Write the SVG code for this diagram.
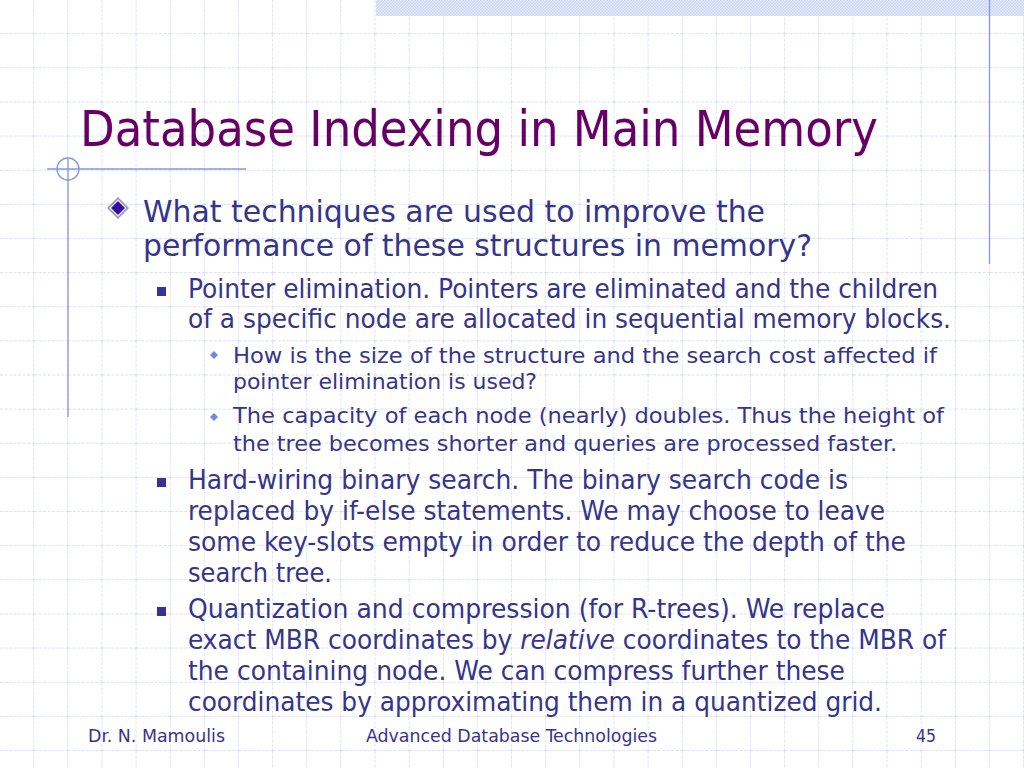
<svg xmlns="http://www.w3.org/2000/svg" width="1024" height="768" viewBox="0 0 1024 768">
<defs>
<pattern id="grid" patternUnits="userSpaceOnUse" x="0" y="0" width="34.1333" height="34.1333">
<path d="M34.1333 0 V34.1333 M0 34.1333 H34.1333" fill="none" stroke="#cdd5f2" stroke-width="1.3" stroke-dasharray="3 1.5"/>
</pattern>
<pattern id="check" patternUnits="userSpaceOnUse" width="3" height="3">
<rect width="3" height="3" fill="#e4eafb"/>
<rect width="1.5" height="1.5" fill="#ccd7f5"/>
<rect x="1.5" y="1.5" width="1.5" height="1.5" fill="#ccd7f5"/>
</pattern>
<style>
.t{font-family:"DejaVu Sans Condensed","DejaVu Sans",sans-serif;}
.title{fill:#660066;font-size:50px;}
.l1{fill:#35358c;font-size:31px;}
.l2{fill:#35358c;font-size:26.5px;}
.l3{fill:#35358c;font-size:21.5px;}
.ft{fill:#35358c;font-size:17.5px;}
.deco{stroke:#8497e0;stroke-width:1.3;fill:none;}
</style>
</defs>
<rect width="1024" height="768" fill="#ffffff"/>
<rect width="1024" height="768" fill="url(#grid)"/>
<rect x="376" y="0" width="648" height="16" fill="url(#check)"/>
<g id="decor">
<line class="deco" x1="989.5" y1="0" x2="989.5" y2="264"/>
<line class="deco" x1="47" y1="169" x2="246" y2="169"/>
<circle class="deco" cx="68" cy="169" r="11"/>
<line class="deco" x1="68" y1="158" x2="68" y2="417"/>
</g>
<g id="title">
<text class="t title" x="80" y="146" textLength="798" lengthAdjust="spacingAndGlyphs">Database Indexing in Main Memory</text>
</g>
<g id="bullets">
<polygon points="118,197 129,208 118,219 107,208" fill="#9a9ac0"/>
<polygon points="118,199.5 126.5,208 118,216.5 109.5,208" fill="#ffffff"/>
<polygon points="118,201 125,208 118,215 111,208" fill="#3311a0"/>
<rect x="157" y="287" width="9" height="9" fill="#333399"/>
<rect x="157" y="478" width="9" height="9" fill="#333399"/>
<rect x="157" y="607" width="9" height="9" fill="#333399"/>
<polygon points="214,351 218,355 214,359 210,355" fill="#6f88e6"/>
<polygon points="214,413 218,417 214,421 210,417" fill="#6f88e6"/>
</g>
<g id="body">
<text class="t l1" x="143" y="222" textLength="622" lengthAdjust="spacingAndGlyphs">What techniques are used to improve the</text>
<text class="t l1" x="143" y="256" textLength="669" lengthAdjust="spacingAndGlyphs">performance of these structures in memory?</text>
<text class="t l2" x="188" y="298" textLength="750" lengthAdjust="spacingAndGlyphs">Pointer elimination. Pointers are eliminated and the children</text>
<text class="t l2" x="188" y="328" textLength="763" lengthAdjust="spacingAndGlyphs">of a specific node are allocated in sequential memory blocks.</text>
<text class="t l3" x="233" y="363" textLength="704" lengthAdjust="spacingAndGlyphs">How is the size of the structure and the search cost affected if</text>
<text class="t l3" x="233" y="389" textLength="304" lengthAdjust="spacingAndGlyphs">pointer elimination is used?</text>
<text class="t l3" x="233" y="423" textLength="711" lengthAdjust="spacingAndGlyphs">The capacity of each node (nearly) doubles. Thus the height of</text>
<text class="t l3" x="233" y="451" textLength="664" lengthAdjust="spacingAndGlyphs">the tree becomes shorter and queries are processed faster.</text>
<text class="t l2" x="188" y="489" textLength="660" lengthAdjust="spacingAndGlyphs">Hard-wiring binary search. The binary search code is</text>
<text class="t l2" x="188" y="520" textLength="697" lengthAdjust="spacingAndGlyphs">replaced by if-else statements. We may choose to leave</text>
<text class="t l2" x="188" y="551" textLength="718" lengthAdjust="spacingAndGlyphs">some key-slots empty in order to reduce the depth of the</text>
<text class="t l2" x="188" y="582" textLength="144" lengthAdjust="spacingAndGlyphs">search tree.</text>
<text class="t l2" x="188" y="618" textLength="697" lengthAdjust="spacingAndGlyphs">Quantization and compression (for R-trees). We replace</text>
<text class="t l2" x="188" y="649" textLength="758" lengthAdjust="spacingAndGlyphs">exact MBR coordinates by <tspan font-style="italic">relative</tspan> coordinates to the MBR of</text>
<text class="t l2" x="188" y="680" textLength="657" lengthAdjust="spacingAndGlyphs">the containing node. We can compress further these</text>
<text class="t l2" x="188" y="711" textLength="694" lengthAdjust="spacingAndGlyphs">coordinates by approximating them in a quantized grid.</text>
</g>
<g id="footer">
<text class="t ft" x="88" y="742" textLength="137" lengthAdjust="spacingAndGlyphs">Dr. N. Mamoulis</text>
<text class="t ft" x="366" y="742" textLength="291" lengthAdjust="spacingAndGlyphs">Advanced Database Technologies</text>
<text class="t ft" x="916" y="742" textLength="20" lengthAdjust="spacingAndGlyphs">45</text>
</g>
</svg>
